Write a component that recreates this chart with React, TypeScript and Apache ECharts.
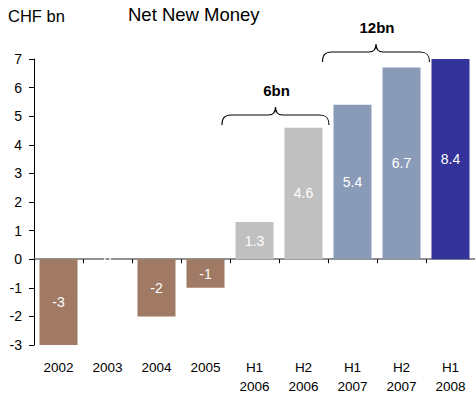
import React, { useEffect, useRef } from "react";
import * as echarts from "echarts";

const categories = ["2002", "2003", "2004", "2005", "H1\n2006", "H2\n2006", "H1\n2007", "H2\n2007", "H1\n2008"];
const values = [-3, 0, -2, -1, 1.3, 4.6, 5.4, 6.7, 8.4];
const barColors = ["#A07A64", "#A07A64", "#A07A64", "#A07A64", "#C0C0C0", "#C0C0C0", "#8A9BB7", "#8A9BB7", "#333399"];
const yTicks = { min: -3, max: 7, interval: 1 };
const annotations = [
  { text: "6bn", x: 221.5, y: 107 },
  { text: "12bn", x: 322, y: 44 },
];

const FONT = '"Liberation Sans", Arial, sans-serif';
const BRACE_W = 108;
const bracePath =
  "M0.5,18 C0.5,11 3,8 10,8 L47,8 C51.5,8 54,5 54,0 C54,5 56.5,8 61,8 L98,8 C105,8 107.5,11 107.5,18";

let registered = false;

export default function App() {
  const ref = useRef<HTMLDivElement>(null);
  useEffect(() => {
    if (!ref.current) return;
    if (!registered) {
      echarts.graphic.registerShape("brace", echarts.graphic.extendPath(bracePath, {}));
      registered = true;
    }
    const chart = echarts.init(ref.current, null, { renderer: "svg" });
    chart.setOption({
      animation: false,
      title: [
        { text: "CHF bn", left: 8, top: 7, padding: 0, textStyle: { fontFamily: FONT, fontSize: 16.5, fontWeight: "normal", color: "#000" } },
        { text: "Net New Money", left: 128, top: 5, padding: 0, textStyle: { fontFamily: FONT, fontSize: 18.5, fontWeight: "normal", color: "#000" } },
      ],
      grid: { left: 34, top: 59, width: 445, height: 286 },
      xAxis: [
        {
          type: "category",
          data: categories,
          position: "top",
          axisLine: { onZero: true, lineStyle: { color: "#6f6f6f", width: 1.5 } },
          axisTick: { show: true, inside: true, length: 4, lineStyle: { color: "#000" } },
          axisLabel: { show: false },
          splitLine: { show: false },
        },
        {
          type: "category",
          data: categories,
          position: "bottom",
          axisLine: { show: false, onZero: false },
          axisTick: { show: false },
          axisLabel: { show: true, fontFamily: FONT, fontSize: 13.5, color: "#000", margin: 13, lineHeight: 19, interval: 0 },
          splitLine: { show: false },
        },
      ],
      yAxis: {
        type: "value",
        min: yTicks.min,
        max: yTicks.max,
        interval: yTicks.interval,
        axisLine: { show: true, lineStyle: { color: "#000", width: 1 } },
        axisTick: { show: true, length: 5, lineStyle: { color: "#000" } },
        axisLabel: { fontFamily: FONT, fontSize: 14, color: "#000", margin: 12 },
        splitLine: { show: false },
      },
      series: [
        {
          type: "bar",
          xAxisIndex: 0,
          barWidth: 38,
          data: values.map((v, i) => ({ value: v, itemStyle: { color: barColors[i] } })),
          label: {
            show: true,
            position: "inside",
            color: "#fff",
            fontFamily: FONT,
            fontSize: 14,
            formatter: (p: any) => String(p.value),
          },
        },
      ],
      graphic: annotations.flatMap((a) => [
        {
          type: "brace",
          x: a.x,
          y: a.y,
          style: { stroke: "#000", fill: "none", lineWidth: 1.2 },
          z: 10,
        },
        {
          type: "text",
          x: a.x + BRACE_W / 2 + 1,
          y: a.y - 17,
          style: { text: a.text, fill: "#000", font: `bold 15px ${FONT}`, align: "center", verticalAlign: "middle" },
          z: 10,
        },
      ]),
    });
    return () => chart.dispose();
  }, []);
  return <div ref={ref} style={{ position: "absolute", left: 0, top: 0, width: 475, height: 396 }} />;
}
